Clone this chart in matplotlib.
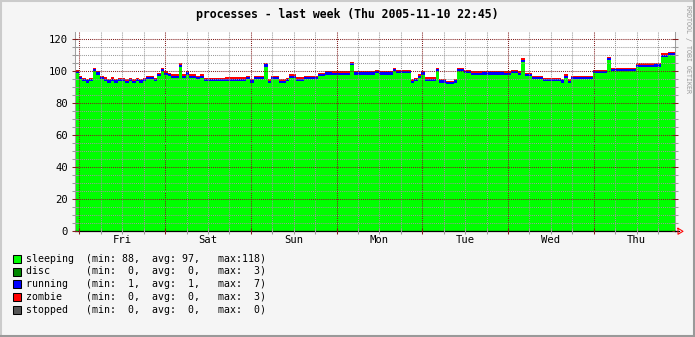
import numpy as np
import matplotlib
matplotlib.use("Agg")
import matplotlib.pyplot as plt
from matplotlib.lines import Line2D
from matplotlib.patches import Rectangle

# hourly samples, starting Thu 2005-11-03 22:45
sleeping = [
    99, 95, 94, 93, 94, 100, 98, 95, 94, 93, 94, 93, 94, 94, 93, 94, 93, 94, 93, 94,
    95, 95, 94, 97, 100, 98, 97, 96, 96, 103, 96, 98, 96, 96, 95, 96,
    94, 94, 94, 94, 94, 94, 94, 94, 94, 94, 94, 94, 95, 93, 95, 95, 95, 103,
    93, 95, 95, 93, 93, 94, 96, 96, 94, 94, 95, 95, 95, 95, 97, 97, 98,
    98, 98, 98, 98, 98, 98, 104, 98, 98, 98, 98, 98, 98, 99, 98, 98, 98, 98, 100,
    99, 99, 99, 99, 93, 94, 96, 98, 94, 94, 94, 100, 93, 93, 92, 92, 93,
    100, 100, 99, 99, 98, 98, 98, 98, 98, 98, 98, 98, 98, 98, 98,
    99, 99, 98, 106, 97, 97, 95, 95, 95, 94, 94, 94, 94, 94, 93, 96, 93,
    95, 95, 95, 95, 95, 95, 99, 99, 99, 99, 107, 100, 100, 100, 100, 100, 100, 100,
    103, 103, 103, 103, 103, 103, 103, 109, 109, 110, 110,
]
# 6-hour readings
running6 = [1.3, 1.3, 1.2, 1.3, 1.2, 1.3, 1.2, 1.3, 1.3, 1.2, 1.3, 1.3, 1.2, 1.3,
            1.3, 1.2, 1.3, 1.3, 1.2, 1.3, 1.2, 1.3, 1.3, 1.2, 1.3, 1.3, 1.2, 1.4]
zombie6 = [0.8, 0.9, 0.8, 0.8, 0.9, 0.8, 0.8, 0.9, 0.8, 0.8, 0.9, 0.8, 0.8, 0.9,
           0.8, 0.8, 0.9, 0.8, 0.8, 0.8, 0.9, 0.8, 0.8, 0.9, 0.8, 0.8, 0.9, 0.8]
disc = [0.0] * 168

names = ["sleeping", "disc", "running", "zombie", "stopped"]
colors = ["#00ff00", "#008800", "#0000ff", "#ff0000", "#555555"]
stats = [(88, 97, 118), (0, 0, 3), (1, 1, 7), (0, 0, 3), (0, 0, 0)]
days = ["Fri", "Sat", "Sun", "Mon", "Tue", "Wed", "Thu"]
first_midnight = 1.25  # hours after start
title = "processes - last week (Thu 2005-11-10 22:45)"

W, H = 695, 337
fig = plt.figure(figsize=(W / 100, H / 100), dpi=100, facecolor="#f5f5f5")

def fx(x):
    return x / W

def fy(y):
    return 1 - y / H

# 3d border
fig.add_artist(Line2D([0, 1], [fy(1), fy(1)], color="#cbcbcb", lw=1.5, transform=fig.transFigure))
fig.add_artist(Line2D([fx(1), fx(1)], [0, 1], color="#cbcbcb", lw=1.5, transform=fig.transFigure))
fig.add_artist(Line2D([0, 1], [fy(336), fy(336)], color="#999999", lw=1.5, transform=fig.transFigure))
fig.add_artist(Line2D([fx(694), fx(694)], [0, 1], color="#999999", lw=1.5, transform=fig.transFigure))

L, R, T, B = 75, 675, 31.7, 231.3
ax = fig.add_axes([fx(L), fy(B), (R - L) / W, (B - T) / H])
ax.set_facecolor("white")

x = np.arange(169)
run = np.repeat(running6, 6)
zom = np.repeat(zombie6, 6)
layers = [np.array(sleeping, float), np.array(disc), run, zom]
base = np.zeros(168)
for vals, c in zip(layers, colors):
    top = base + vals
    ax.fill_between(x, np.append(base, base[-1]), np.append(top, top[-1]),
                    step="post", color=c, lw=0, zorder=1)
    base = top

ax.set_xlim(0, 168)
ax.set_ylim(0, 124.75)

ax.set_xticks(np.arange(first_midnight, 168, 24))
ax.set_xticks(np.arange(first_midnight, 168, 6), minor=True)
ax.set_yticks(np.arange(0, 121, 20))
ax.set_yticks(np.arange(0, 125, 5), minor=True)
ax.set_xticklabels([])
ax.set_axisbelow(False)
dot = (0, (1, 1))
ax.grid(which="minor", color="#9a9a9a", ls=dot, lw=0.75, zorder=3)
ax.grid(which="major", color="#821e1e", ls=dot, lw=0.75, zorder=3)

ax.tick_params(which="both", direction="inout", length=4, width=0.75,
               left=True, right=True, bottom=True, top=False)
ax.tick_params(which="major", color="#821e1e")
ax.tick_params(which="minor", color="#9a9a9a")
ax.tick_params(axis="y", which="major", labelsize=7.6, pad=3)
for lab in ax.get_yticklabels():
    lab.set_family("DejaVu Sans Mono")

for s in ["left", "right", "top"]:
    ax.spines[s].set_color("#a0a0a0")
    ax.spines[s].set_linewidth(0.75)
ax.spines["top"].set_visible(False)
ax.spines["bottom"].set_color("black")
ax.spines["bottom"].set_linewidth(0.9)

for i, d in enumerate(days):
    ax.text(first_midnight + 12 + 24 * i, -5.5, d, ha="center", va="center",
            fontsize=7.6, family="DejaVu Sans Mono", transform=ax.transData)

# x axis arrow
fig.add_artist(Line2D([fx(675), fx(679)], [fy(B), fy(B)], color="black", lw=0.9,
                      transform=fig.transFigure))
fig.add_artist(Line2D([fx(678), fx(678), fx(683), fx(678)],
                      [fy(B - 3), fy(B + 3), fy(B), fy(B - 3)],
                      color="#ff0000", lw=0.75, transform=fig.transFigure))

fig.text(fx(347), fy(14.5), title, ha="center", va="center", fontsize=8.3,
         family="DejaVu Sans Mono", weight="bold")
fig.text(fx(688), fy(5), "RRDTOOL / TOBI OETIKER", rotation=270, ha="center", va="top",
         fontsize=4.8, family="DejaVu Sans Mono", color="#999999")

for i, (n, c, (mn, av, mx)) in enumerate(zip(names, colors, stats)):
    yc = 258.7 + 12.8 * i
    fig.add_artist(Rectangle((fx(12.5), fy(yc + 4)), 8 / W, 8 / H, facecolor=c,
                             edgecolor="black", lw=0.75, transform=fig.transFigure))
    s = f"{n:<10}(min:{mn:3d},  avg:{av:3d},   max:{mx:3d})"
    fig.text(fx(26.5), fy(yc), s, ha="left", va="center", fontsize=7.15,
             family="DejaVu Sans Mono")

fig.savefig("out.png", dpi=100, facecolor=fig.get_facecolor())
